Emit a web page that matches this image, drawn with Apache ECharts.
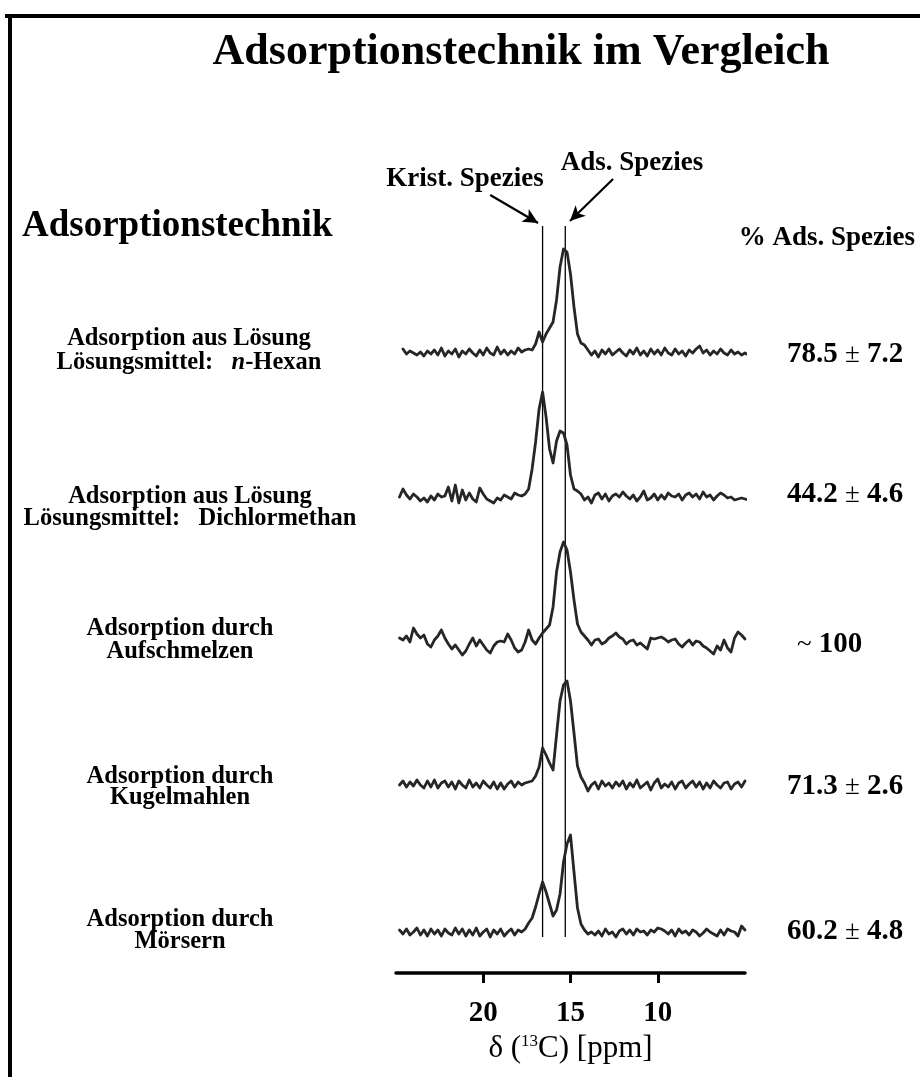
<!DOCTYPE html>
<html>
<head>
<meta charset="utf-8">
<script src="https://cdn.jsdelivr.net/npm/echarts@6/dist/echarts.min.js"></script>
<style>
  html, body { margin: 0; padding: 0; background: #ffffff; }
  #chart { width: 920px; height: 1077px; }
</style>
</head>
<body>
<div id="chart"></div>
<script>
// Chemical shift axis of the sampled spectra (ppm), 24.8 -> 4.8 in 0.2 ppm steps
const shiftPpm = Array.from({ length: 101 }, (_, i) => +(24.8 - 0.2 * i).toFixed(1));

// 13C CP/MAS intensities (% of the strongest line), one list per preparation
const hexan = [
  null, 3, -2, 1, -1, -3, 0, -4, 1, -2,
  2, -3, 4, -4, 1, -2, 3, -5, 1, -2,
  3, -1, -4, 2, -3, 4, -1, -3, 5, -2,
  2, -3, 1, -2, 4, 0, 2, 3, 2, 8,
  20, 10, 18, 24, 30, 52, 85, 103, 100, 78,
  45, 18, 9, 7, 2, -3, 1, -5, 2, -2,
  3, -3, 0, 3, -1, -4, 2, -2, 4, -3,
  1, -4, 3, -2, 2, -3, 4, -1, -3, 3,
  -2, 1, -4, 2, -1, 3, 6, -1, 2, -3,
  1, -2, 3, -1, -3, 2, -2, 0, -3, -1,
  -3
];
const dichlormethan = [
  0, 8, 2, -2, 3, 0, -4, -1, -5, 1,
  -3, 3, 0, 1, 10, -4, 12, -6, 7, -3,
  4, -2, -5, 9, 3, -2, -4, -6, -1, -3,
  2, 0, -2, 4, 2, 1, 3, 8, 28, 55,
  88, 105, 80, 48, 34, 56, 66, 64, 52, 22,
  8, 6, 3, -3, 0, -6, 2, 4, -2, 3,
  -4, 1, 3, 0, 5, 1, -2, 2, -4, 0,
  6, -3, -1, 3, -3, 2, -2, 4, 1, 0,
  3, -3, 2, 4, 0, 3, -2, 5, 0, 2,
  -3, 1, 4, 2, -1, 0, -3, -2, -1, -2,
  -3
];
const aufschmelzen = [
  4, 2, 6, 0, 14, 8, 4, 7, -2, -5,
  2, 6, 12, 4, -2, -7, -3, -8, -13, -9,
  -2, 4, -4, 2, -3, -8, -11, -4, 0, 1,
  0, 8, 2, -6, -10, -8, 0, 12, 2, -2,
  4, 9, 13, 17, 35, 70, 90, 100, 92, 70,
  42, 18, 10, 6, 2, -3, 2, 3, -2, 0,
  4, 6, 9, 5, 3, -2, 1, 2, -3, -1,
  -4, -7, 4, 3, 4, 5, 3, 0, 2, 3,
  -2, -5, -1, 2, -3, 1, 0, -4, -6, -9,
  -12, -4, -8, 2, -6, -10, 4, 10, 7, 3,
  null
];
const kugelmahlen = [
  0, 4, -2, 3, -1, 5, 0, -3, 4, -2,
  5, -3, 2, 4, -2, 3, -4, 4, 0, -3,
  5, -2, 2, -3, 4, 0, -3, 3, -4, 2,
  -4, 1, 4, -2, 3, 0, 2, 3, 4, 9,
  18, 37, 30, 22, 15, 50, 84, 100, 104, 84,
  52, 19, 8, 2, -6, 0, 3, -4, 4, -1,
  2, -3, 3, -1, 4, -4, 2, -2, 5, -3,
  0, 3, -5, 2, 6, -3, 1, -2, 3, -4,
  2, 4, -3, 1, 4, -2, 3, -4, 2, -3,
  4, 0, -3, 2, 3, -4, 1, 3, -2, 4,
  null
];
const moersern = [
  2, -2, 3, -3, 0, 4, -3, 2, -4, 3,
  -2, 2, -4, 3, -1, -3, 4, -2, 3, -4,
  2, -3, 4, -4, 0, 3, -5, 2, -2, 3,
  -4, 0, 3, -3, 2, 0, 3, 9, 14, 25,
  38, 50, 40, 28, 16, 22, 38, 70, 88, 97,
  60, 24, 8, 2, -2, 0, -3, 1, -4, 3,
  -2, 0, -5, 1, 3, -2, 2, -3, 3, 0,
  1, -3, 2, 0, 4, 3, 1, -2, 2, -4,
  3, -1, 1, -3, 2, 0, -4, -1, 3, 0,
  -2, -4, 2, -3, 3, 1, 0, -4, 6, 2,
  null
];

// Stacking offsets of the spectra (same intensity units)
const traceOffsets = [580, 435, 290, 147, 0];

// Preparation methods (line 1 / line 2) and fraction of adsorbed species
const techniqueLine1 = ['Adsorption aus Lösung', 'Adsorption aus Lösung', 'Adsorption durch', 'Adsorption durch', 'Adsorption durch'];
const techniqueLine2 = ['Lösungsmittel:   {i|n}-Hexan', 'Lösungsmittel:   Dichlormethan', 'Aufschmelzen', 'Kugelmahlen', 'Mörsern'];
const adsPercent = [78.5, 44.2, 100, 71.3, 60.2];
const adsPercentErr = [7.2, 4.6, null, 2.6, 4.8];

// Reference shifts of the crystalline and adsorbed species (ppm)
const speciesNames = ['Krist. Spezies', 'Ads. Spezies'];
const speciesShift = [16.6, 15.3];

// Axis
const tickValues = [20, 15, 10];
const axisMin = 5, axisMax = 25;

const spectra = [hexan, dichlormethan, aufschmelzen, kugelmahlen, moersern];

const serif = "'Liberation Serif', 'Times New Roman', 'DejaVu Serif', serif";
const ink = '#000000';

function traceData(values, offset) {
  const out = [];
  values.forEach((v, i) => {
    if (v !== null) out.push([shiftPpm[i], offset + v]);
  });
  return out;
}

const series = spectra.map((vals, k) => ({
  type: 'line',
  data: traceData(vals, traceOffsets[k]),
  showSymbol: false,
  symbol: 'none',
  smooth: false,
  silent: true,
  z: 3,
  lineStyle: { color: '#262626', width: 2.8, join: 'round', cap: 'round' }
}));

// Vertical guide lines at the two species shifts
speciesShift.forEach(s => {
  series.push({
    type: 'line',
    data: [[s, -5], [s, 706]],
    showSymbol: false,
    symbol: 'none',
    silent: true,
    z: 2,
    lineStyle: { color: ink, width: 1.3 }
  });
});

// Arrows from the species labels to the guide lines
series.push({
  type: 'line',
  data: [],
  silent: true,
  markLine: {
    silent: true,
    symbol: ['none', 'arrow'],
    symbolSize: [11, 15],
    label: { show: false },
    lineStyle: { color: ink, width: 2.2, type: 'solid' },
    data: [
      [{ coord: [19.6, 737] }, { coord: [16.86, 709] }],
      [{ coord: [12.56, 753] }, { coord: [15.03, 711] }]
    ]
  }
});

// Layout of the text blocks
const labelY = [[339, 363], [497, 519], [629, 652], [777, 798], [920, 942]];
const labelX = [189, 190, 180, 180, 180];
const pctY = [355, 495, 645, 787, 932];

const graphic = [
  // frame
  { type: 'rect', shape: { x: 5, y: 14, width: 915, height: 4 }, style: { fill: ink } },
  { type: 'rect', shape: { x: 8, y: 14, width: 4, height: 1063 }, style: { fill: ink } },
  // title
  { type: 'text', x: 521, y: 53, style: { text: 'Adsorptionstechnik im Vergleich', fontFamily: serif, fontWeight: 'bold', fontSize: 44, fill: ink, align: 'center', verticalAlign: 'middle' } },
  // column headings
  { type: 'text', x: 22, y: 226, style: { text: 'Adsorptionstechnik', fontFamily: serif, fontWeight: 'bold', fontSize: 37, fill: ink, align: 'left', verticalAlign: 'middle' } },
  { type: 'text', x: 915, y: 238, style: { text: '% Ads. Spezies', fontFamily: serif, fontWeight: 'bold', fontSize: 27, fill: ink, align: 'right', verticalAlign: 'middle' } },
  // species labels
  { type: 'text', x: 465, y: 179, style: { text: speciesNames[0], fontFamily: serif, fontWeight: 'bold', fontSize: 27, fill: ink, align: 'center', verticalAlign: 'middle' } },
  { type: 'text', x: 632, y: 163, style: { text: speciesNames[1], fontFamily: serif, fontWeight: 'bold', fontSize: 27, fill: ink, align: 'center', verticalAlign: 'middle' } }
];

techniqueLine1.forEach((t, k) => {
  graphic.push({ type: 'text', x: labelX[k], y: labelY[k][0], style: { text: t, fontFamily: serif, fontWeight: 'bold', fontSize: 24.5, fill: ink, align: 'center', verticalAlign: 'middle' } });
  graphic.push({ type: 'text', x: labelX[k], y: labelY[k][1], style: {
    text: techniqueLine2[k], fontFamily: serif, fontWeight: 'bold', fontSize: 24.5, fill: ink, align: 'center', verticalAlign: 'middle',
    rich: { i: { fontFamily: serif, fontWeight: 'bold', fontStyle: 'italic', fontSize: 24.5, fill: ink } }
  } });
});

adsPercent.forEach((p, k) => {
  const err = adsPercentErr[k];
  const txt = err === null
    ? '{r|~} {b|' + p + '}'
    : '{b|' + p.toFixed(1) + '} {r|±} {b|' + err.toFixed(1) + '}';
  graphic.push({ type: 'text', x: err === null ? 797 : 787, y: pctY[k], style: {
    text: txt, align: 'left', verticalAlign: 'middle', fill: ink,
    fontFamily: serif, fontSize: 29,
    rich: {
      b: { fontFamily: serif, fontWeight: 'bold', fontSize: 29, fill: ink },
      r: { fontFamily: serif, fontWeight: 'normal', fontSize: 27, fill: ink }
    }
  } });
});

const chart = echarts.init(document.getElementById('chart'), null, { renderer: 'canvas' });
chart.setOption({
  animation: false,
  backgroundColor: '#ffffff',
  grid: { left: 396, right: 175, top: 150, bottom: 104, containLabel: false },
  xAxis: {
    type: 'value',
    min: axisMin,
    max: axisMax,
    interval: 5,
    inverse: true,
    name: 'δ ({sup|13}C) [ppm]',
    nameLocation: 'middle',
    nameGap: 54,
    nameTextStyle: {
      fontFamily: serif, fontSize: 31, color: ink, lineHeight: 32,
      rich: { sup: { fontFamily: serif, fontSize: 17, color: ink, verticalAlign: 'top', lineHeight: 17 } }
    },
    axisLine: { show: true, onZero: false, lineStyle: { color: ink, width: 3.5 } },
    axisTick: { show: true, inside: false, length: 10, customValues: tickValues, lineStyle: { color: ink, width: 3 } },
    axisLabel: { show: true, customValues: tickValues, margin: 26, fontFamily: serif, fontWeight: 'bold', fontSize: 29, color: ink },
    splitLine: { show: false }
  },
  yAxis: {
    type: 'value',
    min: -41,
    max: 782,
    show: false,
    splitLine: { show: false }
  },
  series: series,
  graphic: graphic
});
</script>
</body>
</html>
